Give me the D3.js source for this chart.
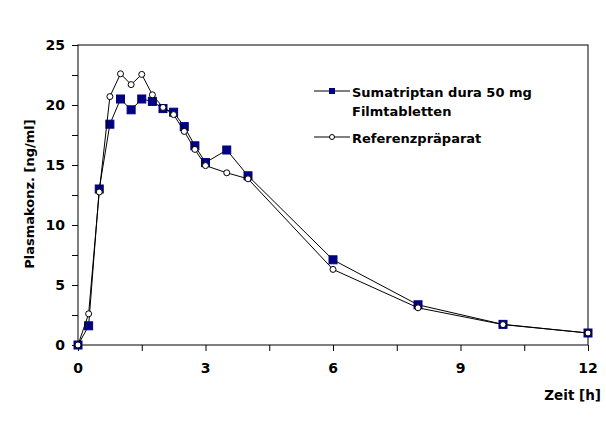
<!DOCTYPE html>
<html>
<head>
<meta charset="utf-8">
<script src="https://cdn.jsdelivr.net/npm/d3@7"></script>
<style>
  body { margin: 0; background: #fff; }
  text { font-family: "DejaVu Sans", "Liberation Sans", Arial, sans-serif; font-weight: bold; }
</style>
</head>
<body>
<div id="chart"></div>
<script>
// Messzeitpunkte [h]
const times = [0, 0.25, 0.5, 0.75, 1, 1.25, 1.5, 1.75, 2, 2.25, 2.5, 2.75, 3, 3.5, 4, 6, 8, 10, 12];
// Sumatriptan dura 50 mg Filmtabletten
const testValues = [0, 1.6, 13.0, 18.4, 20.5, 19.6, 20.5, 20.3, 19.7, 19.4, 18.2, 16.6, 15.2, 16.25, 14.1, 7.1, 3.35, 1.72, 1.0];
// Referenzpräparat
const refValues = [0, 2.6, 12.75, 20.7, 22.6, 21.7, 22.55, 20.85, 19.8, 19.2, 17.8, 16.3, 14.95, 14.35, 13.85, 6.3, 3.1, 1.7, 1.0];

const xTicks = [0, 1.5, 3, 4.5, 6, 7.5, 9, 10.5, 12];
const xLabels = [0, 3, 6, 9, 12];
const yTicks = [0, 2.5, 5, 7.5, 10, 12.5, 15, 17.5, 20, 22.5, 25];
const yLabels = [0, 5, 10, 15, 20, 25];

const legendLabels = [["Sumatriptan dura 50 mg", "Filmtabletten"], ["Referenzpräparat"]];

const width = 606, height = 427;
const margin = { top: 45, right: 18, bottom: 82, left: 78 };
const plotW = width - margin.left - margin.right;
const plotH = height - margin.top - margin.bottom;

const svg = d3.select('#chart').append('svg')
    .attr('width', width)
    .attr('height', height);

const plot = svg.append('g')
    .attr('transform', `translate(${margin.left},${margin.top})`);

const x = d3.scaleLinear().domain([0, 12]).range([0, plotW]);
const y = d3.scaleLinear().domain([0, 25]).range([plotH, 0]);

// Rahmen
plot.append('rect')
    .attr('x', 0).attr('y', 0)
    .attr('width', plotW).attr('height', plotH)
    .attr('fill', 'none')
    .attr('stroke', '#000')
    .attr('stroke-width', 1);

// Achsen
const xAxis = plot.append('g')
    .attr('transform', `translate(0,${plotH})`)
    .call(d3.axisBottom(x).tickValues(xTicks).tickSize(6).tickFormat(''));
const yAxis = plot.append('g')
    .call(d3.axisLeft(y).tickValues(yTicks).tickSize(6).tickFormat(''));
[xAxis, yAxis].forEach(a => {
    a.select('.domain').remove();
    a.selectAll('line').attr('stroke', '#000');
});

plot.selectAll('.xlab').data(xLabels).join('text')
    .attr('class', 'xlab')
    .attr('x', d => x(d))
    .attr('y', plotH + 28)
    .attr('text-anchor', 'middle')
    .attr('font-size', '14px')
    .text(d => d);

plot.selectAll('.ylab').data(yLabels).join('text')
    .attr('class', 'ylab')
    .attr('x', -13)
    .attr('y', d => y(d) + 5)
    .attr('text-anchor', 'end')
    .attr('font-size', '14px')
    .text(d => d);

// Achsentitel
svg.append('text')
    .attr('x', 601)
    .attr('y', 400)
    .attr('text-anchor', 'end')
    .attr('font-size', '13.5px')
    .text('Zeit [h]');

svg.append('text')
    .attr('transform', 'translate(34,194) rotate(-90)')
    .attr('text-anchor', 'middle')
    .attr('font-size', '13px')
    .text('Plasmakonz. [ng/ml]');

// Kurven
const line = d3.line()
    .x(d => x(d[0]))
    .y(d => y(d[1]));

const testData = times.map((t, i) => [t, testValues[i]]);
const refData = times.map((t, i) => [t, refValues[i]]);

plot.append('path')
    .datum(testData)
    .attr('fill', 'none')
    .attr('stroke', '#000')
    .attr('stroke-width', 1)
    .attr('d', line);

plot.selectAll('.sq').data(testData).join('rect')
    .attr('class', 'sq')
    .attr('x', d => x(d[0]) - 4)
    .attr('y', d => y(d[1]) - 4)
    .attr('width', 8)
    .attr('height', 8)
    .attr('fill', '#000080')
    .attr('stroke', '#000080')
    .attr('stroke-width', 1);

plot.append('path')
    .datum(refData)
    .attr('fill', 'none')
    .attr('stroke', '#000')
    .attr('stroke-width', 1)
    .attr('d', line);

plot.selectAll('.ci').data(refData).join('circle')
    .attr('class', 'ci')
    .attr('cx', d => x(d[0]))
    .attr('cy', d => y(d[1]))
    .attr('r', 3)
    .attr('fill', '#fff')
    .attr('stroke', '#000')
    .attr('stroke-width', 1);

// Legende
const legend = svg.append('g');
const legY = [91, 137];
legendLabels.forEach((lines, i) => {
    const g = legend.append('g').attr('transform', `translate(0,${legY[i]})`);
    g.append('line')
        .attr('x1', 314).attr('x2', 350)
        .attr('y1', 0).attr('y2', 0)
        .attr('stroke', '#000');
    if (i === 0) {
        g.append('rect')
            .attr('x', 329).attr('y', -3)
            .attr('width', 6).attr('height', 6)
            .attr('fill', '#000080');
    } else {
        g.append('circle')
            .attr('cx', 332).attr('cy', 0).attr('r', 2.5)
            .attr('fill', '#fff').attr('stroke', '#000');
    }
    lines.forEach((t, j) => {
        g.append('text')
            .attr('x', 352)
            .attr('y', 6 + j * 19)
            .attr('font-size', '13px')
            .text(t);
    });
});
</script>
</body>
</html>
